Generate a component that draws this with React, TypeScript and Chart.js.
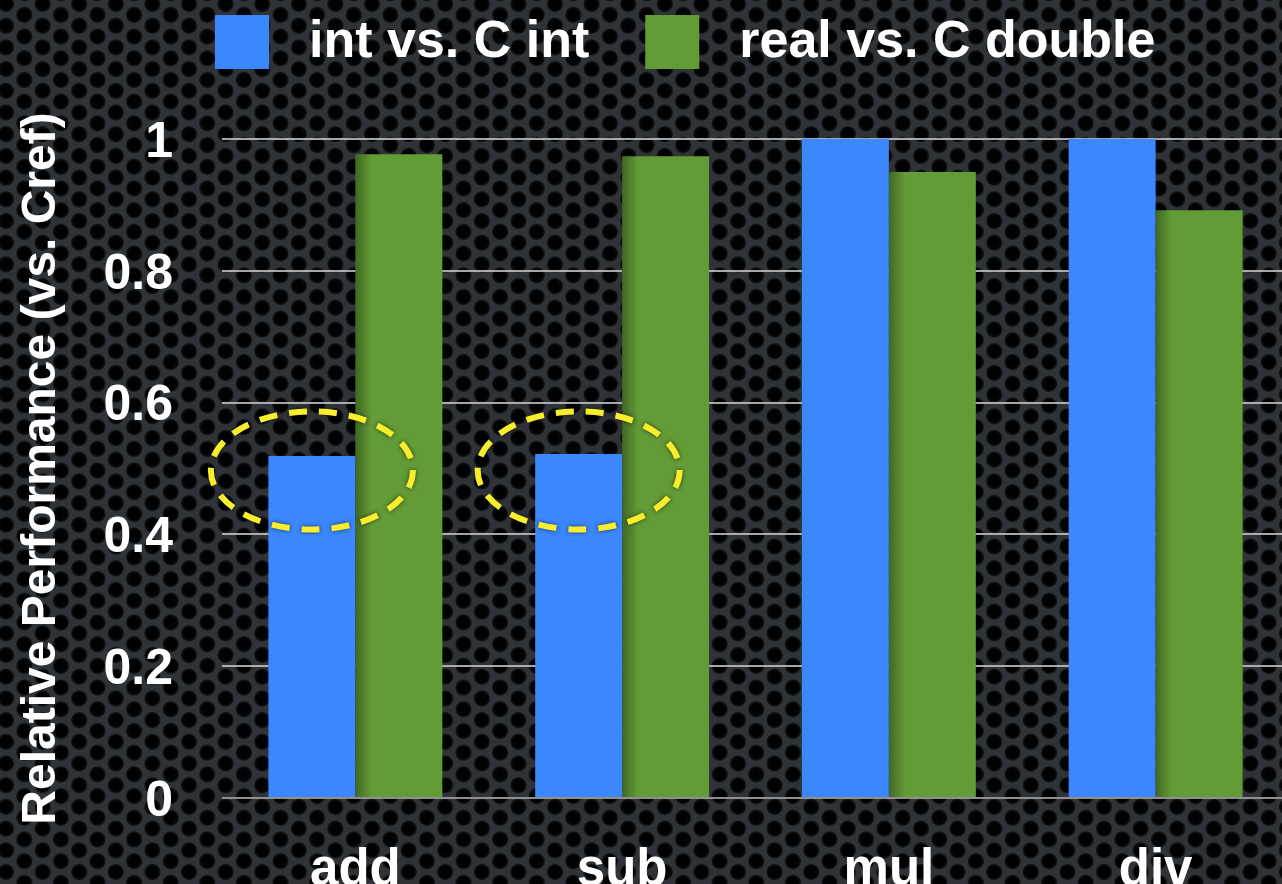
import React, { useEffect, useRef } from 'react';
import { Chart, registerables } from 'chart.js';

Chart.register(...registerables);

const categories = ['add', 'sub', 'mul', 'div'];
const intVsCInt = [0.519, 0.522, 1.0, 1.0];
const realVsCDouble = [0.977, 0.974, 0.95, 0.892];
const seriesLabels = ['int vs. C int', 'real vs. C double'];
const seriesColors = ['#3b87fd', '#639b36'];
const yTickValues = [0, 0.2, 0.4, 0.6, 0.8, 1];
const yAxisTitle = 'Relative Performance (vs. Cref)';
const highlightedBars = [0, 1];
const highlightCenterValue = 0.497;

const FONT = '"Liberation Sans", Arial, Helvetica, sans-serif';
const W = 1290;
const H = 900;

const backgroundPlugin = {
  id: 'perforatedBg',
  beforeDraw(chart: any) {
    const ctx = chart.ctx as CanvasRenderingContext2D;
    ctx.save();
    ctx.fillStyle = '#2f3337';
    ctx.fillRect(0, 0, chart.width, chart.height);
    const dx = 18.3;
    const dy = 21.7;
    for (let i = -1; i * dx < chart.width + dx; i++) {
      const x = i * dx + 6;
      const off = i % 2 === 0 ? 0 : dy / 2;
      for (let j = -1; j * dy < chart.height + dy; j++) {
        const y = j * dy + off + 4;
        const g = ctx.createRadialGradient(x, y, 0, x, y, 9);
        g.addColorStop(0, 'rgba(0,0,0,1)');
        g.addColorStop(0.66, 'rgba(1,2,3,1)');
        g.addColorStop(0.85, 'rgba(14,16,18,0.85)');
        g.addColorStop(1, 'rgba(47,51,55,0)');
        ctx.fillStyle = g;
        ctx.beginPath();
        ctx.arc(x, y, 9, 0, Math.PI * 2);
        ctx.fill();
      }
    }
    ctx.restore();
  },
};

const legendPlugin = {
  id: 'customLegend',
  afterDraw(chart: any) {
    const ctx = chart.ctx as CanvasRenderingContext2D;
    ctx.save();
    ctx.font = `bold 52px ${FONT}`;
    ctx.textBaseline = 'middle';
    ctx.textAlign = 'left';
    let x = 215;
    const boxTop = 15;
    const box = 54;
    chart.data.datasets.forEach((ds: any) => {
      ctx.fillStyle = ds.backgroundColor;
      ctx.fillRect(x, boxTop, box, box);
      x += box + 40;
      ctx.fillStyle = '#ffffff';
      ctx.fillText(ds.label, x, boxTop + box / 2 + 1);
      x += ctx.measureText(ds.label).width + 56;
    });
    ctx.restore();
  },
};

const barShadePlugin = {
  id: 'barShade',
  afterDatasetsDraw(chart: any) {
    const ctx = chart.ctx as CanvasRenderingContext2D;
    const meta = chart.getDatasetMeta(1);
    ctx.save();
    meta.data.forEach((el: any) => {
      const left = el.x - el.width / 2;
      const g = ctx.createLinearGradient(left, 0, left + 16, 0);
      g.addColorStop(0, 'rgba(0,0,0,0.34)');
      g.addColorStop(1, 'rgba(0,0,0,0)');
      ctx.fillStyle = g;
      ctx.fillRect(left, el.y, 16, el.base - el.y);
    });
    ctx.restore();
  },
};

const ellipsePlugin = {
  id: 'highlightEllipses',
  afterDatasetsDraw(chart: any) {
    const ctx = chart.ctx as CanvasRenderingContext2D;
    const meta = chart.getDatasetMeta(0);
    const yScale = chart.scales.y;
    ctx.save();
    ctx.setLineDash([18, 12]);
    ctx.lineWidth = 6;
    ctx.strokeStyle = '#f8ee2c';
    ctx.shadowColor = 'rgba(0,0,0,0.6)';
    ctx.shadowBlur = 4;
    highlightedBars.forEach((idx) => {
      const el = meta.data[idx];
      const cx = el.x;
      const cy = yScale.getPixelForValue(highlightCenterValue);
      ctx.beginPath();
      ctx.ellipse(cx, cy, 101, 59, 0, 0, Math.PI * 2);
      ctx.stroke();
    });
    ctx.restore();
  },
};

export default function App() {
  const ref = useRef<HTMLCanvasElement | null>(null);

  useEffect(() => {
    document.body.style.margin = '0';
    document.body.style.overflow = 'hidden';
    document.body.style.background = '#202326';
    const canvas = ref.current!;
    const chart = new Chart(canvas, {
      type: 'bar',
      data: {
        labels: categories,
        datasets: [
          {
            label: seriesLabels[0],
            data: intVsCInt,
            backgroundColor: seriesColors[0],
            borderWidth: 0,
          },
          {
            label: seriesLabels[1],
            data: realVsCDouble,
            backgroundColor: seriesColors[1],
            borderWidth: 0,
          },
        ],
      },
      options: {
        responsive: false,
        animation: false,
        devicePixelRatio: 1,
        layout: { padding: { top: 139, left: 0, right: 1, bottom: 0 } },
        datasets: {
          bar: { categoryPercentage: 0.652, barPercentage: 1.0 },
        },
        plugins: {
          legend: { display: false },
          tooltip: { enabled: false },
        },
        scales: {
          x: {
            grid: { display: false },
            border: { display: false },
            ticks: {
              color: '#ffffff',
              font: { family: FONT, size: 51, weight: 'bold' },
              padding: 34,
              maxRotation: 0,
            },
            afterFit(scale: any) {
              scale.height = H - 798;
            },
          },
          y: {
            min: 0,
            max: 1,
            afterBuildTicks(scale: any) {
              scale.ticks = yTickValues.map((v) => ({ value: v }));
            },
            grid: {
              color: (c: any) => (c.tick && c.tick.value === 0 ? 'rgba(150,150,150,0.95)' : 'rgba(195,195,195,0.85)'),
              lineWidth: 2,
              drawTicks: false,
            },
            border: { display: false },
            ticks: {
              color: '#ffffff',
              font: { family: FONT, size: 50, weight: 'bold' },
              padding: 49,
              labelOffset: 4,
              callback: (v: any) => String(v),
            },
            title: {
              display: true,
              text: yAxisTitle,
              color: '#ffffff',
              font: { family: FONT, size: 48, weight: 'bold' },
              padding: { top: 13, bottom: 0 },
            },
            afterFit(scale: any) {
              scale.width = 222;
            },
          },
        },
      },
      plugins: [backgroundPlugin, barShadePlugin, ellipsePlugin, legendPlugin],
    } as any);
    return () => chart.destroy();
  }, []);

  return (
    <div style={{ position: 'fixed', left: 0, top: 0, width: W, height: H }}>
      <canvas ref={ref} width={W} height={H} style={{ width: W, height: H, display: 'block' }} />
    </div>
  );
}
